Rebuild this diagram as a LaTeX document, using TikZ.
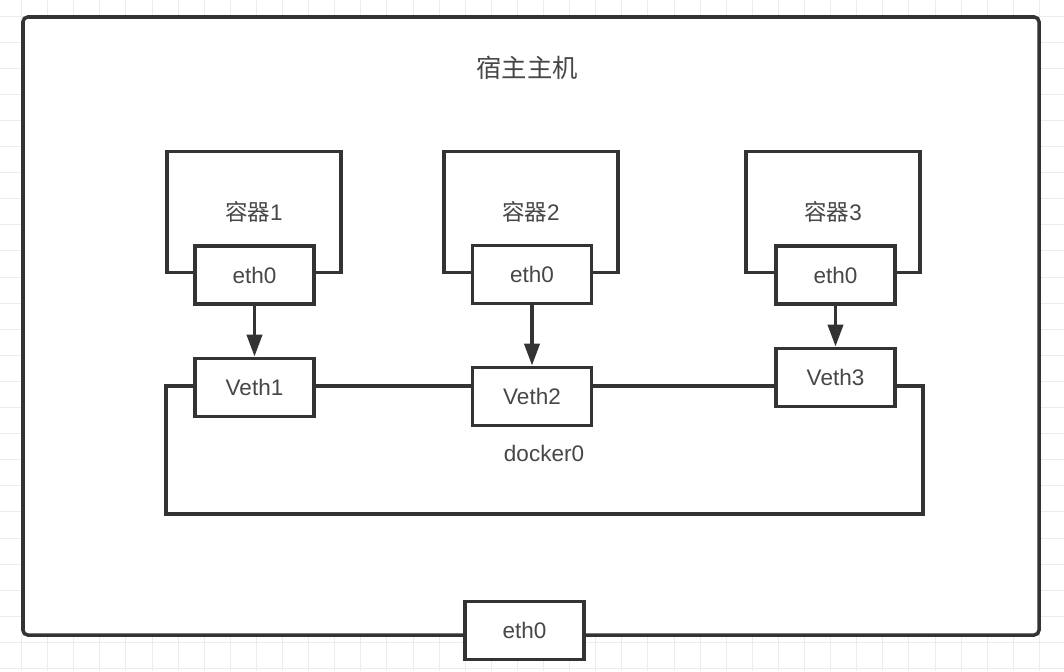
\documentclass[tikz,border=0pt]{standalone}
\usepackage{fontspec}
\setmainfont{Liberation Sans}
\newfontfamily\cjk{Noto Sans CJK SC}
\definecolor{hbInk}{HTML}{333333}
\definecolor{hbText}{HTML}{474747}
\definecolor{hbGrid}{HTML}{ECECEC}
\usetikzlibrary{arrows.meta}

\begin{document}
\begin{tikzpicture}[
  x=0.025cm, y=-0.025cm,
  font=\fontsize{16}{19}\selectfont, text=hbText,
  wire/.style={draw=hbInk,line width=2.5pt},
  ifbox/.style={wire,fill=white,minimum width=2.975cm,minimum height=1.46cm,inner sep=0pt},
  ctrbox/.style={wire,minimum width=4.35cm,minimum height=3.03cm,inner sep=0pt},
  >={Triangle[length=5.5mm,width=3.8mm]}
]
\useasboundingbox (0,0) rectangle (1064,671);
% canvas grid
\foreach \i in {0,...,39}
  \draw[hbGrid,line width=0.7pt] (21.5+26.1*\i,0) -- ++(0,671);
\foreach \j in {0,...,25}
  \draw[hbGrid,line width=0.7pt] (0,16+26.1*\j) -- ++(1064,0);
% host
\draw[wire,fill=white,rounded corners=1.2mm] (23,17) rectangle (1039,635);
\node[font=\cjk\fontsize{18}{22}\selectfont] (host) at (527,68) {宿主主机};
% docker0 bridge
\draw[wire] (166,386) rectangle (923,514);
\node (br) at (544,453) {docker0};
% containers
\node[ctrbox] (c1) at (254,212) {{\cjk 容器}1};
\node[ctrbox] (c2) at (531,212) {{\cjk 容器}2};
\node[ctrbox] (c3) at (833,212) {{\cjk 容器}3};
\node[ifbox] (e1) at (254.5,275) {eth0};
\node[ifbox] (e2) at (532,274.5) {eth0};
\node[ifbox] (e3) at (835.5,275) {eth0};
% veth pairs
\node[ifbox] (v1) at (254.5,387.5) {Veth1};
\node[ifbox] (v2) at (532,396.5) {Veth2};
\node[ifbox] (v3) at (835.5,377.5) {Veth3};
\draw[wire,->] (e1) -- (v1);
\draw[wire,->] (e2) -- (v2);
\draw[wire,->] (e3) -- (v3);
% host nic
\node[ifbox] (nic) at (524.5,630.5) {eth0};
\end{tikzpicture}
\end{document}
